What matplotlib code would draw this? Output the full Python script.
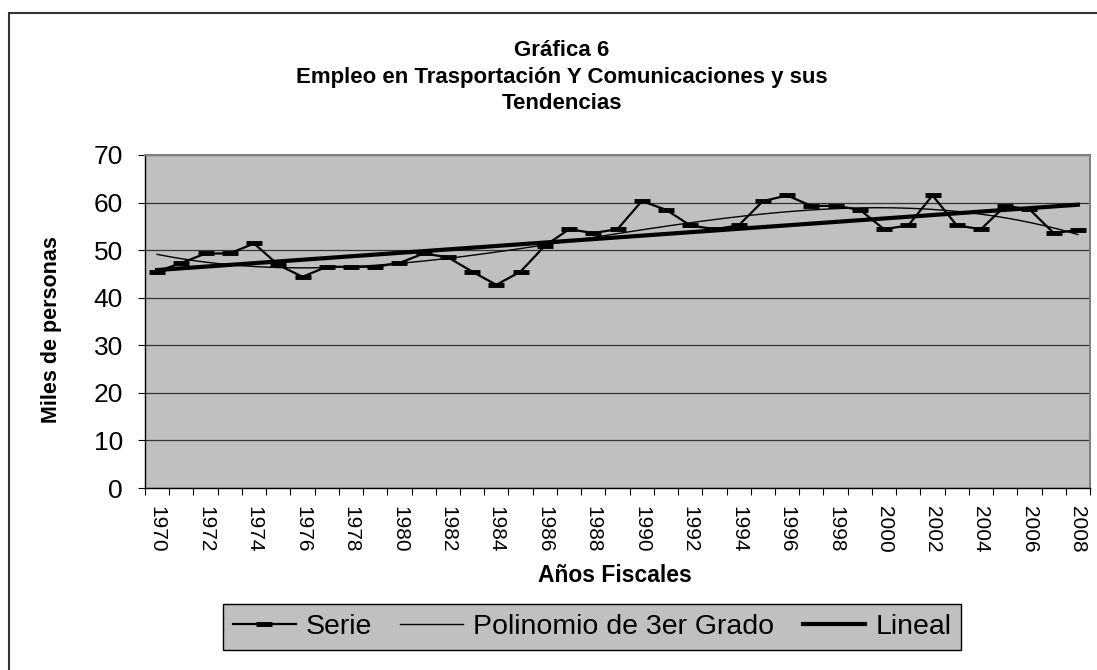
import numpy as np
import matplotlib.pyplot as plt
from matplotlib.lines import Line2D
from matplotlib.patches import Rectangle

plt.rcParams['font.family'] = ['Liberation Sans', 'DejaVu Sans']

# Data
years = list(range(1970, 2009))
empleo = [45.5, 47.3, 49.3, 49.3, 51.4, 46.9, 44.4, 46.5, 46.5, 46.5,
          47.3, 49.3, 48.5, 45.5, 42.7, 45.5, 50.9, 54.4, 53.6, 54.4,
          60.3, 58.5, 55.2, 54.4, 55.2, 60.3, 61.5, 59.3, 59.3, 58.5,
          54.4, 55.2, 61.5, 55.2, 54.4, 59.3, 58.6, 53.6, 54.2]
tick_years = [str(y) for y in years[::2]]

title = 'Gráfica 6\nEmpleo en Trasportación Y Comunicaciones y sus\nTendencias'
series_labels = ['Serie', 'Polinomio de 3er Grado', 'Lineal']

W, H = 1097, 670
fig = plt.figure(figsize=(W / 100, H / 100), dpi=100)
ax = fig.add_axes([145 / W, 1 - 488 / H, (1090 - 145) / W, (488 - 155) / H])

x = np.arange(len(years))
# trend lines fitted like Excel does (x = 1..n)
xf = x + 1
p3 = np.polyfit(xf, empleo, 3)
p1 = np.polyfit(xf, empleo, 1)
xs = np.linspace(0, len(years) - 1, 300)

ax.plot(x, empleo, color='black', lw=1.6, marker='_', ms=11, mew=3.5, zorder=4)
ax.plot(xs, np.polyval(p3, xs + 1), color='black', lw=1.0, zorder=3)
ax.plot(xs, np.polyval(p1, xs + 1), color='black', lw=3.0, zorder=5)

ax.set_facecolor('#C0C0C0')
ax.set_xlim(-0.5, len(years) - 0.5)
ax.set_ylim(0, 70)
ax.set_yticks(range(0, 71, 10))
ax.grid(axis='y', color='#333333', lw=0.9)
ax.set_axisbelow(True)

ax.set_xticks(np.arange(-0.5, len(years), 1))
ax.set_xticklabels([])
ax.set_xticks(x[::2], minor=True)
ax.set_xticklabels(tick_years, minor=True, rotation=270, fontsize=15)
ax.tick_params(axis='x', which='minor', length=0, pad=13)
ax.tick_params(axis='x', which='major', length=5, width=0.8)
ax.tick_params(axis='y', length=5, width=0.8, pad=11, labelsize=19)

for s in ['top', 'right']:
    ax.spines[s].set_color('#808080')
    ax.spines[s].set_linewidth(1.5)
for s in ['left', 'bottom']:
    ax.spines[s].set_color('black')
    ax.spines[s].set_linewidth(1.0)

fig.text(562 / W, 1 - 77 / H, title, ha='center', va='center', fontsize=16,
         fontweight='bold', linespacing=1.35, multialignment='center')
fig.text(52 / W, 1 - 330 / H, 'Miles de personas', rotation=90, ha='center',
         va='center', fontsize=15.5, fontweight='bold')
fig.text(615 / W, 1 - 576 / H, 'Años Fiscales', ha='center', va='center',
         fontsize=16.5, fontweight='bold')

handles = [
    Line2D([0], [0], color='black', lw=1.6, marker='_', ms=11, mew=3.5),
    Line2D([0], [0], color='black', lw=1.0),
    Line2D([0], [0], color='black', lw=3.0),
]
leg = fig.legend(handles, series_labels, loc='center', ncol=3,
                 bbox_to_anchor=(592 / W, 1 - 627 / H), fontsize=20.5,
                 facecolor='#C0C0C0', edgecolor='black', fancybox=False,
                 framealpha=1, handlelength=2.2, handletextpad=0.35,
                 columnspacing=1.0, borderpad=0.35, borderaxespad=0)
leg.get_frame().set_linewidth(1.0)

# outer chart border
fig.patches.append(Rectangle((9 / W, -0.1), 1.2, 1 - 13 / H + 0.1,
                             transform=fig.transFigure, fill=False,
                             edgecolor='#333333', lw=1.5))

plt.savefig('out.png', dpi=100)
